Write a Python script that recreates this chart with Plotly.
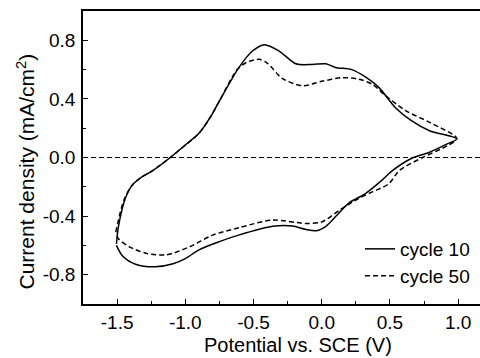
import plotly.graph_objects as go

# Cycle 10 (solid): anodic branch then cathodic branch
c10_up_v = [-1.505, -1.49, -1.44, -1.39, -1.33, -1.24, -1.11, -1.00, -0.90, -0.82,
            -0.75, -0.61, -0.51, -0.42, -0.31, -0.19, -0.07, 0.03, 0.10, 0.22, 0.32, 0.42, 0.54,
            0.66, 0.79, 0.99]
c10_up_i = [-0.59, -0.47, -0.28, -0.19, -0.14, -0.09, 0.0, 0.085, 0.165, 0.27,
            0.386, 0.61, 0.725, 0.77, 0.725, 0.64, 0.635, 0.64, 0.615, 0.60, 0.55, 0.477, 0.34,
            0.25, 0.183, 0.127]
c10_dn_v = [0.92, 0.79, 0.66, 0.52, 0.44, 0.32, 0.20, 0.10, 0.03, -0.04, -0.12, -0.215, -0.36,
            -0.61, -0.75, -0.90, -1.0, -1.09, -1.22, -1.36, -1.46, -1.505]
c10_dn_i = [0.093, 0.036, -0.005, -0.088, -0.156, -0.246, -0.31, -0.405, -0.47, -0.50, -0.49,
            -0.468, -0.47, -0.53, -0.574, -0.63, -0.69, -0.725, -0.746, -0.73, -0.672, -0.60]

# Cycle 50 (dashed)
c50_up_v = [-1.51, -1.45, -1.39, -1.33, -1.24, -1.11, -1.00, -0.90, -0.82, -0.75,
            -0.62, -0.55, -0.46, -0.40, -0.29, -0.14, 0.0, 0.15, 0.27, 0.37, 0.47, 0.615, 0.79,
            0.99]
c50_up_i = [-0.51, -0.29, -0.19, -0.14, -0.09, 0.0, 0.085, 0.165, 0.27, 0.386,
            0.60, 0.65, 0.67, 0.645, 0.54, 0.49, 0.52, 0.545, 0.535, 0.50, 0.42, 0.32, 0.24,
            0.13]
c50_dn_v = [0.92, 0.74, 0.57, 0.49, 0.37, 0.27, 0.13, 0.0, -0.12, -0.36, -0.61, -0.80, -0.97,
            -1.14, -1.29, -1.41, -1.485, -1.51]
c50_dn_i = [0.08, 0.0, -0.088, -0.18, -0.235, -0.28, -0.36, -0.44, -0.45, -0.427, -0.48, -0.53,
            -0.61, -0.665, -0.653, -0.61, -0.56, -0.52]

x_tickvals = [-1.5, -1.0, -0.5, 0.0, 0.5, 1.0]
x_ticktext = ["-1.5", "-1.0", "-0.5", "0.0", "0.5", "1.0"]
y_tickvals = [-0.8, -0.4, 0.0, 0.4, 0.8]
y_ticktext = ["-0.8", "-0.4", "0.0", "0.4", "0.8"]

FONT = "Liberation Sans, Arial, sans-serif"

fig = go.Figure()
fig.add_trace(go.Scatter(
    x=c10_up_v + c10_dn_v, y=c10_up_i + c10_dn_i, mode="lines", name="cycle 10",
    legend="legend",
    line=dict(color="black", width=1.5, shape="spline", smoothing=0.8)))
fig.add_trace(go.Scatter(
    x=c50_up_v + c50_dn_v, y=c50_up_i + c50_dn_i, mode="lines", name="cycle 50",
    legend="legend2",
    line=dict(color="black", width=1.5, dash="5px,3px", shape="spline", smoothing=0.8)))

fig.add_shape(type="line", xref="paper", yref="y", x0=0, x1=1, y0=0, y1=0,
              line=dict(color="black", width=1, dash="5px,3px"), layer="below")

axis_common = dict(showline=True, linecolor="black", linewidth=1.5, ticks="inside",
                   ticklen=5, tickwidth=1, tickcolor="black", showgrid=False, zeroline=False,
                   tickfont=dict(family=FONT, size=19, color="black"))

fig.update_xaxes(range=[-1.75, 1.16], tickvals=x_tickvals, ticktext=x_ticktext, mirror=True,
                 minor=dict(dtick=0.25, ticks="inside", ticklen=3, tickcolor="black", tick0=0),
                 ticklabelstandoff=0, **axis_common)
fig.update_yaxes(range=[-1.0, 1.0], tickvals=y_tickvals, ticktext=y_ticktext,
                 minor=dict(dtick=0.2, ticks="inside", ticklen=3, tickcolor="black", tick0=0),
                 ticklabelstandoff=2, **axis_common)

fig.add_annotation(text="Potential vs. SCE (V)", xref="paper", yref="paper",
                   x=(297.5 - 83) / 397, y=(304 - 345) / 293, showarrow=False,
                   xanchor="center", yanchor="middle",
                   font=dict(family=FONT, size=20, color="black"))
fig.add_annotation(text="Current density (mA/cm<sup>2</sup>)", xref="paper", yref="paper",
                   x=(25 - 83) / 397, y=(304 - 171.5) / 293, showarrow=False, textangle=-90,
                   xanchor="center", yanchor="middle",
                   font=dict(family=FONT, size=21, color="black"))

leg_common = dict(xanchor="left", yanchor="middle", bgcolor="rgba(0,0,0,0)",
                  font=dict(family=FONT, size=19, color="black"))
fig.update_layout(
    width=480, height=358, plot_bgcolor="white", paper_bgcolor="white",
    margin=dict(l=83, r=0, t=11, b=54),
    showlegend=True,
    legend=dict(x=(360 - 83) / 397, y=(304 - 249) / 293, **leg_common),
    legend2=dict(x=(360 - 83) / 397, y=(304 - 275.8) / 293, **leg_common),
)

fig.write_html("out.html")
